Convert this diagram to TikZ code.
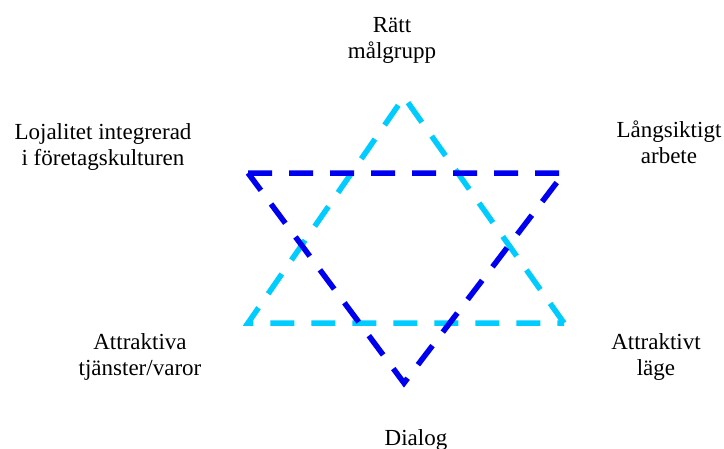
\documentclass[tikz,border=0pt]{standalone}
\usepackage{fontspec}
\setmainfont{Liberation Serif}
\definecolor{starcyan}{RGB}{0,204,255}
\definecolor{starblue}{RGB}{0,0,240}
\begin{document}
\begin{tikzpicture}[x=1pt,y=-1pt,
  starline/.style={line width=5.5pt, dash pattern=on 24pt off 17pt, line join=miter},
  lbl/.style={align=center, inner sep=0pt, anchor=base, font=\fontsize{23}{25.5}\selectfont}]
\useasboundingbox (0,0) rectangle (724,448);
% vertices
\coordinate (cA) at (404,97);
\coordinate (cBL) at (248,323);
\coordinate (cBR) at (564,323);
\coordinate (bTL) at (248,173);
\coordinate (bTR) at (564,173);
\coordinate (bB) at (404,383);
% triangles
\draw[starline, starcyan] (cBR) -- (cA) -- (cBL) -- cycle;
\draw[starline, starblue] (bTL) -- (bTR) -- (bB) -- cycle;
% labels (anchor = baseline of last line)
\node[lbl] (top) at (392,58) {Rätt\\målgrupp};
\node[lbl] (tl) at (103,165) {Lojalitet integrerad\\i företagskulturen};
\node[lbl] (tr) at (669,163) {Långsiktigt\\arbete};
\node[lbl] (bl) at (140,375) {Attraktiva\\tjänster/varor};
\node[lbl] (br) at (656,375) {Attraktivt\\läge};
\node[lbl] (bot) at (416,445) {Dialog};
\end{tikzpicture}
\end{document}
